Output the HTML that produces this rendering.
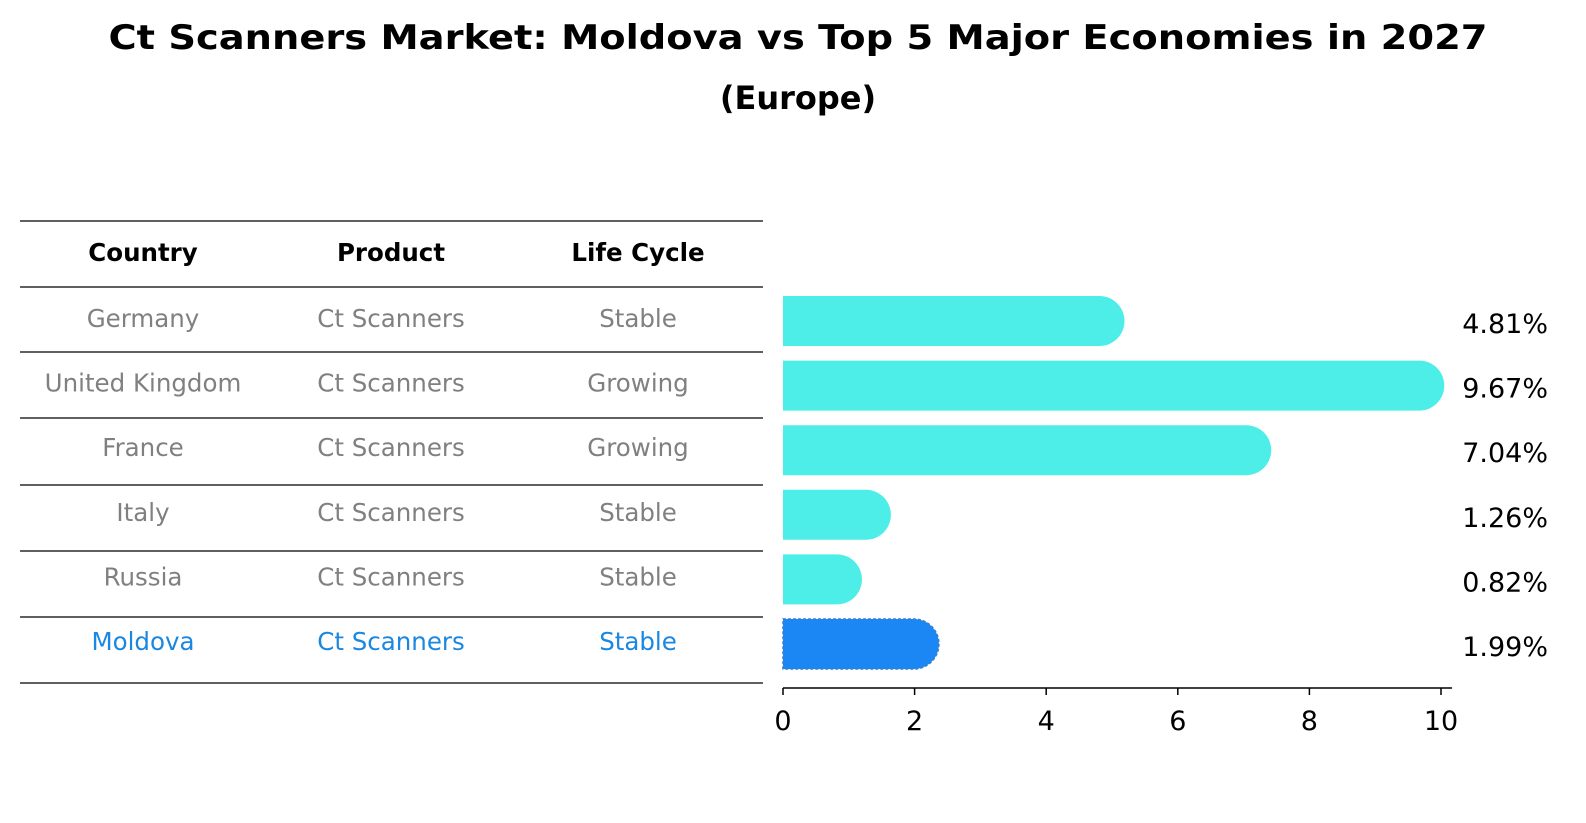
<!DOCTYPE html>
<html><head><meta charset="utf-8">
<style>
body{margin:0;background:#fff;font-family:"DejaVu Sans","Liberation Sans",sans-serif;}
svg{display:block}
</style></head>
<body>
<svg id="chart" width="1586" height="823" xmlns="http://www.w3.org/2000/svg" font-family="DejaVu Sans, Liberation Sans, sans-serif">
<text x="798" y="49" text-anchor="middle" font-size="34" font-weight="bold" textLength="1379" lengthAdjust="spacingAndGlyphs">Ct Scanners Market: Moldova vs Top 5 Major Economies in 2027</text>
<text x="798" y="109" text-anchor="middle" font-size="32" font-weight="bold">(Europe)</text>
<g id="table"></g>
<g id="bars"></g>
</svg>
<script>
const countries=["Germany","United Kingdom","France","Italy","Russia","Moldova"];
const products=["Ct Scanners","Ct Scanners","Ct Scanners","Ct Scanners","Ct Scanners","Ct Scanners"];
const lifeCycles=["Stable","Growing","Growing","Stable","Stable","Stable"];
const values=[4.81,9.67,7.04,1.26,0.82,1.99];
const valueLabels=["4.81%","9.67%","7.04%","1.26%","0.82%","1.99%"];
const ticks=[0,2,4,6,8,10];

const NS="http://www.w3.org/2000/svg";
function mk(tag,attrs,parent,text){const e=document.createElementNS(NS,tag);for(const k in attrs)e.setAttribute(k,attrs[k]);if(text!==undefined)e.textContent=text;parent.appendChild(e);return e;}
const x0=783,x1=1441;
const xs=v=>x0+(x1-x0)*v/10;
const rowY=i=>321+i*64.6;
const tbl=document.getElementById('table');
const bars=document.getElementById('bars');
const lineYs=[221,287,352,418,485,551,617,683];
lineYs.forEach(y=>{const l=mk('line',{x1:20,x2:763,y1:y,y2:y,stroke:'#000','stroke-width':1.2},tbl);

});
const colX=[143,391,638];
["Country","Product","Life Cycle"].forEach((h,j)=>{const t=mk('text',{x:colX[j],y:261,'text-anchor':'middle','font-size':24.5,'font-weight':'bold'},tbl,h);

});
countries.forEach((c,i)=>{
  const col=i===countries.length-1?'#1a87e0':'#808080';
  const y=rowY(i)+6;
  [c,products[i],lifeCycles[i]].forEach((s,j)=>{const t=mk('text',{x:colX[j],y:y,'text-anchor':'middle','font-size':24.5,fill:col},tbl,s);
  
  });
  const hl=i===countries.length-1;
  const w=xs(values[i])-x0, h=50, r=25, top=rowY(i)-25;
  const p=mk('path',{d:`M${x0},${top} H${x0+w} A${r},${r} 0 0 1 ${x0+w},${top+h} H${x0} Z`,fill:hl?'#1a87f5':'#4deee8',stroke:hl?'#3a7fd0':'none','stroke-dasharray':hl?'3,2':'none','stroke-width':hl?1.5:0},bars);
  
  
  const vt=mk('text',{x:1548,y:rowY(i)+12,'text-anchor':'end','font-size':27},bars,valueLabels[i]);
  
  
});
const ax=mk('line',{x1:x0,x2:1452,y1:688,y2:688,stroke:'#000','stroke-width':1.5},bars);


ticks.forEach(t=>{const tk=mk('line',{x1:xs(t),x2:xs(t),y1:688,y2:695,stroke:'#000','stroke-width':1.5},bars);


const tl=mk('text',{x:xs(t),y:730,'text-anchor':'middle','font-size':27},bars,String(t));

});
</script>
</body></html>
